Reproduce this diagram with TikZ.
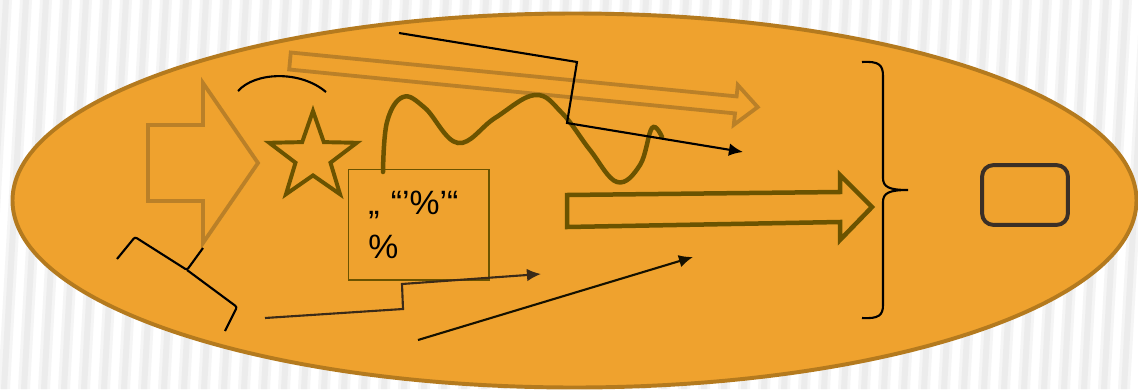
\documentclass[tikz,border=0pt]{standalone}
\usepackage{fontspec}
\newfontfamily\quotefont{Liberation Sans}
\usetikzlibrary{shapes.geometric,arrows.meta}
\definecolor{blobfill}{HTML}{EFA22E}
\definecolor{blobline}{HTML}{B47A1E}
\definecolor{starolive}{HTML}{6B5300}
\definecolor{fadedbrown}{HTML}{BA8028}
\definecolor{inkbrown}{HTML}{3A2A18}
\definecolor{boxline}{HTML}{3B2F26}
\def\px{0.025cm}
\begin{document}
\begin{tikzpicture}[x=\px, y=-\px,
    faded/.style={draw=fadedbrown, line width=2.7pt, line join=miter},
    olive/.style={draw=starolive, line width=2.8pt, line join=miter},
    ink/.style={draw=black, line width=1.5pt},
    tip/.style={-{Latex[length=10pt,width=9pt]}}]
    \useasboundingbox (0,0) rectangle (1138,389);
    \fill[white] (0,0) rectangle (1138,389);
    \foreach \i in {-1,...,58} {
        \fill[gray!8] (\i*20,0) -- ++(12,0) -- ++(-22,389) -- ++(-12,0) -- cycle;
        \fill[gray!15] (\i*20+3,0) -- ++(6,0) -- ++(-22,389) -- ++(-6,0) -- cycle;
    }
    \draw[fill=blobfill, draw=blobline, line width=2.8pt] (574.5,200.5) ellipse [x radius=562, y radius=187];
    \draw[faded] (148,125) -- (203,125) -- (203,83) -- (258,163) -- (203,243) -- (203,201) -- (148,201) -- cycle;
    \draw[faded] (290.8,52.5) -- (736.6,96.4) -- (737.8,85) -- (757.7,107.1) -- (733.8,124.8) -- (735,113.4) -- (289.2,69.5) -- cycle;
    \draw[ink] (238,91) .. controls (255,72) and (300,70) .. (326,92);
    \draw[olive, line width=3.2pt, line cap=round] plot[smooth, tension=0.65] coordinates {(383,172) (387,122) (403,97) (425,108) (458,143) (495,118) (535,95) (562,113) (590,150) (617,182) (640,165) (652,128) (662,137)};
    \node[star, star points=5, star point ratio=2.5, olive, minimum size=92*\px, inner sep=0pt] (star) at (313,157) {};
    \node[draw=starolive, line width=1.4pt, anchor=north west, minimum width=100pt, minimum height=78.6pt,
        text width=71.6pt, inner xsep=14.2pt, inner ysep=0pt, align=left,
        font=\quotefont\fontsize{24}{31}\selectfont] (quotes) at (347.5,168.5) {„ “’\%’“\\\%};
    \draw[olive, line width=3.2pt] (567,195) -- (840,192) -- (840,175) -- (872,207) -- (840,240) -- (840,222) -- (567,227) -- cycle;
    \coordinate (zagA) at (399,33);
    \coordinate (zagB) at (577,62);
    \coordinate (zagC) at (567,123);
    \coordinate (zagD) at (743,152);
    \draw[ink, tip] (zagA) -- (zagB) -- (zagC) -- (zagD);
    \coordinate (lowA) at (265,318);
    \coordinate (lowB) at (403,309);
    \coordinate (lowC) at (402,284);
    \coordinate (lowD) at (541,274);
    \draw[ink, draw=inkbrown, tip] (lowA) -- (lowB) -- (lowC) -- (lowD);
    \coordinate (slopeA) at (418,340);
    \coordinate (slopeB) at (693,257);
    \draw[ink, draw=black!80!starolive, tip] (slopeA) -- (slopeB);
    \coordinate (bkA) at (117,259);
    \coordinate (bkB) at (135,237);
    \coordinate (bkMid) at (187,270);
    \coordinate (bkTip) at (203,248);
    \coordinate (bkC) at (237,307);
    \coordinate (bkD) at (225,331);
    \draw[ink, rounded corners=1.5pt] (bkA) -- (bkB) -- (bkMid) -- (bkTip);
    \draw[ink, rounded corners=1.5pt] (bkMid) -- (bkC) -- (bkD);
    \coordinate (braceTop) at (862,62);
    \coordinate (braceTip) at (908,190);
    \coordinate (braceBot) at (862,318);
    \draw[ink] (braceTop) .. controls (879,61) and (883,65) .. (883,76) -- (883,178)
        .. controls (883,187) and (889,190) .. (braceTip)
        .. controls (889,190) and (883,193) .. (883,202) -- (883,305)
        .. controls (883,315) and (879,319) .. (braceBot);
    \node[draw=boxline, line width=2.8pt, rounded corners=8pt, minimum width=61pt, minimum height=42.5pt] (frame) at (1025,195) {};
\end{tikzpicture}
\end{document}
